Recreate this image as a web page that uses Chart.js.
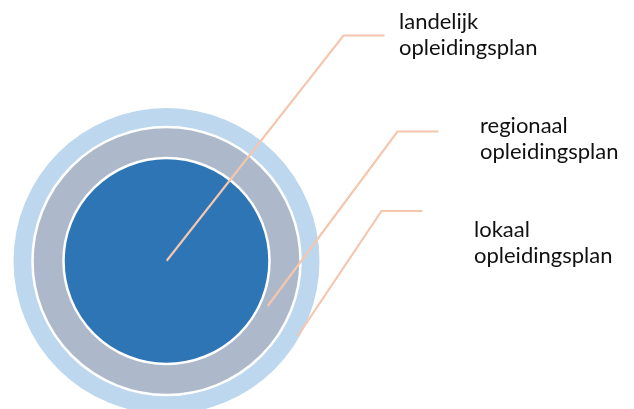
<!DOCTYPE html>
<html>
<head>
<meta charset="utf-8">
<script src="https://cdn.jsdelivr.net/npm/chart.js@4"></script>
<style>
  html, body { margin: 0; padding: 0; background: #fff; }
  #wrap { width: 634px; height: 409px; }
</style>
</head>
<body>
<div id="wrap"><canvas id="chart" width="634" height="409"></canvas></div>
<script>
// rings: outer -> inner, centre shared
const ringNames = ["lokaal", "regionaal", "landelijk"];
const ringCenter = { x: 166.5, y: 261 };
const ringRadius = [153, 134, 103];
const ringColors = ["#BDD7EE", "#ADB9CA", "#2E75B6"];

// leader lines (start on the ring, elbow, end)
const leaderLandelijk = [{ x: 166.7, y: 260.7 }, { x: 343.5, y: 35.5 }, { x: 384.5, y: 35.5 }];
const leaderRegionaal = [{ x: 267.7, y: 306 }, { x: 397.5, y: 131.5 }, { x: 438.5, y: 131.5 }];
const leaderLokaal = [{ x: 297.7, y: 336 }, { x: 381.5, y: 211 }, { x: 422.5, y: 211 }];

const labelLines = [
  ["landelijk", "opleidingsplan"],
  ["regionaal", "opleidingsplan"],
  ["lokaal", "opleidingsplan"]
];
const labelAnchors = [{ x: 399, y: 29 }, { x: 480, y: 133 }, { x: 474, y: 237 }];

const lineColor = "#F4C6AE";

function leader(data) {
  return {
    type: "line",
    data,
    borderColor: lineColor,
    borderWidth: 2.2,
    pointRadius: 0,
    tension: 0,
    fill: false,
    order: 0
  };
}

const labelPlugin = {
  id: "labels",
  afterDatasetsDraw(chart) {
    const { ctx, scales } = chart;
    ctx.save();
    ctx.fillStyle = "#111";
    ctx.font = "22px Lato";
    ctx.textBaseline = "alphabetic";
    labelLines.forEach((lines, i) => {
      const px = scales.x.getPixelForValue(labelAnchors[i].x);
      const py = scales.y.getPixelForValue(labelAnchors[i].y);
      lines.forEach((t, j) => ctx.fillText(t, px, py + j * 26.3));
    });
    ctx.restore();
  }
};

new Chart(document.getElementById("chart"), {
  type: "scatter",
  data: {
    datasets: [
      {
        type: "bubble",
        label: "rings",
        data: ringRadius.map((r) => ({ x: ringCenter.x, y: ringCenter.y, r })),
        backgroundColor: ringColors,
        borderColor: "#ffffff",
        borderWidth: (c) => (c.dataIndex === 0 ? 0 : 2.5),
        radius: (c) => {
          const s = c.chart.scales.x;
          const r = ringRadius[c.dataIndex];
          return Math.abs(s.getPixelForValue(ringCenter.x + r) - s.getPixelForValue(ringCenter.x));
        },
        order: 1
      },
      leader(leaderLandelijk),
      leader(leaderRegionaal),
      leader(leaderLokaal)
    ]
  },
  options: {
    responsive: false,
    animation: false,
    events: [],
    layout: { padding: 0, autoPadding: false },
    plugins: { legend: { display: false }, tooltip: { enabled: false } },
    scales: {
      x: { type: "linear", min: 0, max: 634, display: false },
      y: { type: "linear", min: 0, max: 409, reverse: true, display: false }
    }
  },
  plugins: [labelPlugin]
});
</script>
</body>
</html>
